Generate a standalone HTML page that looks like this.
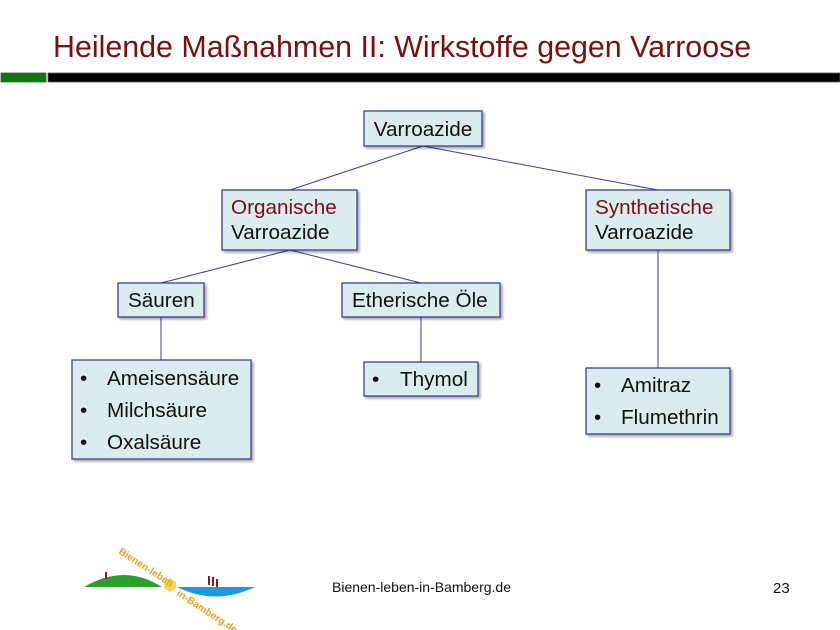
<!DOCTYPE html>
<html><head><meta charset="utf-8"><style>
html,body{margin:0;padding:0;background:#fff;}
svg{display:block;font-family:"Liberation Sans",Arial,sans-serif;}
</style></head><body>
<svg width="840" height="630" viewBox="0 0 840 630" xmlns="http://www.w3.org/2000/svg">
<defs>
<filter id="sh" x="-10%" y="-10%" width="130%" height="140%"><feDropShadow dx="2" dy="2" stdDeviation="1.2" flood-color="#000" flood-opacity="0.35"/></filter>
</defs>
<text x="53" y="57" font-size="30.4" fill="#7a0f0f">Heilende Maßnahmen II: Wirkstoffe gegen Varroose</text>
<rect x="1" y="73" width="45" height="9" fill="#0b7a0b" stroke="#555" stroke-width="0.8"/>
<rect x="48" y="73" width="792" height="9" fill="#000" stroke="#555" stroke-width="0.8"/>
<g stroke="#3b3f8f" stroke-width="1" fill="none">
<line x1="423" y1="146" x2="290" y2="190"/>
<line x1="423" y1="146" x2="658" y2="190"/>
<line x1="290" y1="250" x2="161" y2="283"/>
<line x1="290" y1="250" x2="421" y2="283"/>
<line x1="161" y1="317" x2="161" y2="360"/>
<line x1="421" y1="317" x2="421" y2="362"/>
<line x1="658" y1="250" x2="658" y2="368"/>
</g>
<g fill="#dbecef" stroke="#3b3f8f" stroke-width="1.3" filter="url(#sh)">
<rect x="364" y="111" width="118" height="35"/>
<rect x="222" y="190" width="135" height="60"/>
<rect x="586" y="190" width="144" height="60"/>
<rect x="118" y="283" width="86" height="34"/>
<rect x="342" y="283" width="158" height="34"/>
<rect x="72" y="360" width="179" height="99"/>
<rect x="364" y="362" width="114" height="34"/>
<rect x="586" y="368" width="144" height="66"/>
</g>
<g font-size="20.7" fill="#111">
<text x="423" y="136" text-anchor="middle">Varroazide</text>
<text x="231" y="214" fill="#7a0f0f">Organische</text>
<text x="231" y="239">Varroazide</text>
<text x="595" y="214" fill="#7a0f0f">Synthetische</text>
<text x="595" y="239">Varroazide</text>
<text x="128" y="307">Säuren</text>
<text x="352" y="307">Etherische Öle</text>
<text x="80" y="385">•</text><text x="107" y="385">Ameisensäure</text>
<text x="80" y="417">•</text><text x="107" y="417">Milchsäure</text>
<text x="80" y="449">•</text><text x="107" y="449">Oxalsäure</text>
<text x="372" y="386">•</text><text x="400" y="386">Thymol</text>
<text x="594" y="392">•</text><text x="621" y="392">Amitraz</text>
<text x="594" y="424">•</text><text x="621" y="424">Flumethrin</text>
</g>
<text x="332" y="592" font-size="14" fill="#111">Bienen-leben-in-Bamberg.de</text>
<text x="773" y="593" font-size="15" fill="#111">23</text>
<path d="M84 587 Q125 563 162 587 Z" fill="#2aa02a"/>
<path d="M177 587 Q215 606 255 587 Z" fill="#1a9ae0"/>
<rect x="105" y="572" width="2" height="7" fill="#8b1a1a"/>
<rect x="208" y="576" width="2" height="9" fill="#8b1a1a"/>
<rect x="212" y="577" width="2" height="9" fill="#8b1a1a"/>
<rect x="216" y="579" width="2" height="8" fill="#8b1a1a"/>
<polygon points="164,582 170,578 176,582 176,588 170,592 164,588" fill="#f7d35a"/>
<text x="118" y="553" font-size="10" font-weight="bold" fill="#e8a020" transform="rotate(33 118 553)">Bienen-leben</text>
<text x="176" y="595" font-size="10" font-weight="bold" fill="#e8a020" transform="rotate(33 176 595)">in-Bamberg.de</text>
</svg>
</body></html>
